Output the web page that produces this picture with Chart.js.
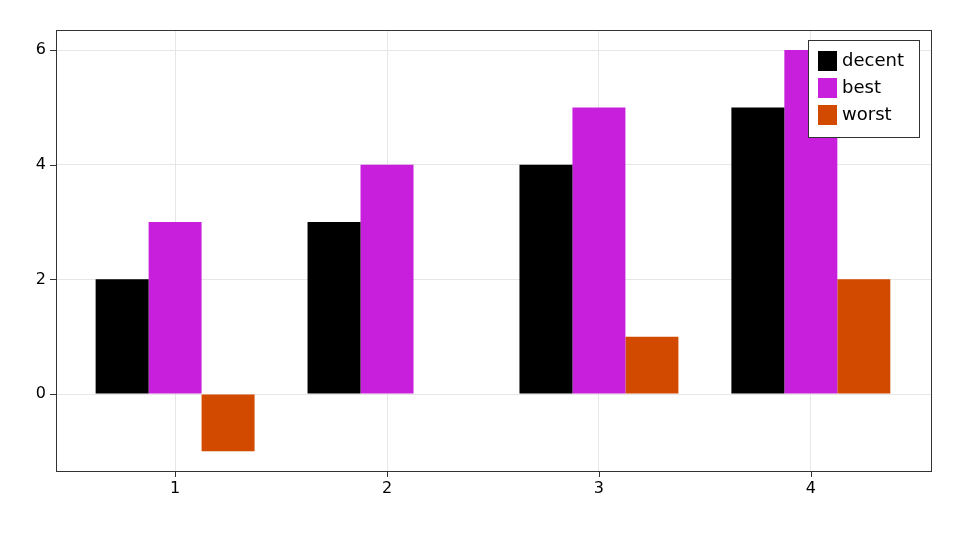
<!DOCTYPE html>
<html><head><meta charset="utf-8">
<script src="https://cdn.jsdelivr.net/npm/chart.js@4"></script>
<style>html,body{margin:0;background:#fff}#w{width:960px;height:540px}</style>
</head><body><div id="w"><canvas id="c"></canvas></div>
<script>
const categories=[1,2,3,4];
const decent=[2,3,4,5];
const best=[3,4,5,6];
const worst=[-1,0,1,2];
const seriesNames=['decent','best','worst'];
const colors=['#000000','#c71fdb','#d14a00'];
const yTicks=[0,2,4,6];
const mk=a=>categories.map((c,i)=>({x:c,y:a[i]}));
const font={family:'DejaVu Sans',size:16};
const boxPlugin={id:'box',afterDraw(ch){const a=ch.chartArea,c=ch.ctx;c.save();c.strokeStyle='#333';c.lineWidth=1;c.strokeRect(a.left+0.5,a.top+0.5,a.right-a.left,a.bottom-a.top);
 const lx=808,ly=40,w=111,h=97;c.fillStyle='#fff';c.fillRect(lx,ly,w,h);c.strokeStyle='#333';c.strokeRect(lx+0.5,ly+0.5,w,h);
 c.font='18px DejaVu Sans';c.textBaseline='middle';
 seriesNames.forEach((n,i)=>{const y=ly+21+i*27;c.fillStyle=colors[i];c.fillRect(lx+10,y-10,19,20);c.fillStyle='#000';c.fillText(n,lx+34,y);});
 c.restore();}};
new Chart(document.getElementById('c'),{type:'bar',
data:{datasets:[{label:'decent',data:mk(decent),backgroundColor:colors[0]},{label:'best',data:mk(best),backgroundColor:colors[1]},{label:'worst',data:mk(worst),backgroundColor:colors[2]}]},
options:{responsive:true,maintainAspectRatio:false,animation:false,
layout:{padding:{top:30,right:29,left:0,bottom:0}},
plugins:{legend:{display:false},tooltip:{enabled:false}},
datasets:{bar:{categoryPercentage:0.75,barPercentage:1}},
scales:{
x:{type:'linear',offset:false,min:0.438,max:4.567,grid:{color:'#e6e6e6',drawTicks:false,offset:false},border:{display:false},
 ticks:{color:'#000',font,padding:8},afterBuildTicks(s){s.ticks=categories.map(v=>({value:v}));},afterFit(s){s.height=69;}},
y:{min:-1.343,max:6.35,grid:{color:'#e6e6e6',drawTicks:false},border:{display:false},
 ticks:{color:'#000',font,padding:10},afterBuildTicks(s){s.ticks=yTicks.map(v=>({value:v}));},afterFit(s){s.width=56;}}
}},plugins:[boxPlugin,{id:'tk',afterDraw(ch){const c=ch.ctx,x=ch.scales.x,y=ch.scales.y,a=ch.chartArea;c.save();c.strokeStyle='#333';c.beginPath();
 categories.forEach(v=>{const p=Math.round(x.getPixelForValue(v))+0.5;c.moveTo(p,a.bottom);c.lineTo(p,a.bottom+6);});
 yTicks.forEach(v=>{const p=Math.round(y.getPixelForValue(v))+0.5;c.moveTo(a.left,p);c.lineTo(a.left-6,p);});c.stroke();c.restore();}}]});
</script></body></html>
